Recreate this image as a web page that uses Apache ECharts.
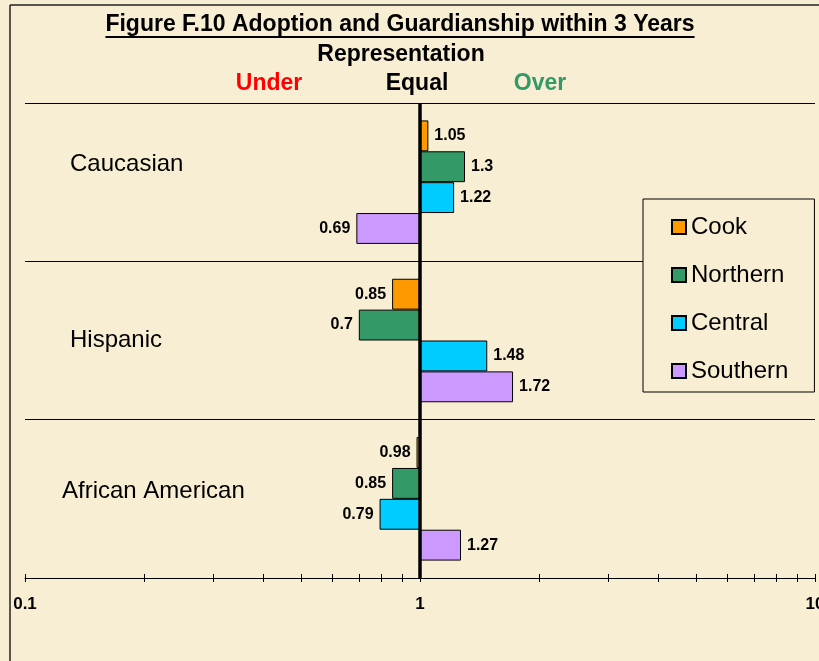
<!DOCTYPE html>
<html>
<head>
<meta charset="utf-8">
<script src="https://cdn.jsdelivr.net/npm/echarts@6/dist/echarts.min.js"></script>
<style>
html,body{margin:0;padding:0;background:#F8EED3;}
#chart{width:819px;height:661px;}
</style>
</head>
<body>
<div id="chart"></div>
<script>
// ---- data ----
const categories = ['Caucasian', 'Hispanic', 'African American'];
const seriesNames = ['Cook', 'Northern', 'Central', 'Southern'];
const cook     = [1.05, 0.85, 0.98];
const northern = [1.3, 0.7, 0.85];
const central  = [1.22, 1.48, 0.79];
const southern = [0.69, 1.72, 1.27];
const tickValues  = [0.1,0.2,0.3,0.4,0.5,0.6,0.7,0.8,0.9,1,2,3,4,5,6,7,8,9,10];
const labelValues = [0.1, 1, 10];
const titleText = 'Figure F.10 Adoption and Guardianship within 3 Years';
const subText = 'Representation';
const underText = 'Under', equalText = 'Equal', overText = 'Over';

// ---- styling ----
const FONT = '"Liberation Sans", Arial, sans-serif';
const colors = ['#FF9900', '#339966', '#00CCFF', '#CC99FF'];
const bg = '#F8EED3';
const catLabelStyle = [
  {align: 'left', padding: [0,0,0,8], verticalAlign: 'bottom', lineHeight: 35},
  {align: 'left', padding: [0,0,0,8], verticalAlign: 'middle'},
  {align: 'left', padding: [0,0,0,0], verticalAlign: 'bottom', lineHeight: 15}
];
const values = [cook, northern, central, southern];

const chart = echarts.init(document.getElementById('chart'), null, {renderer:'canvas'});

function measure(text, font){
  const c = document.createElement('canvas').getContext('2d');
  c.font = font;
  return c.measureText(text).width;
}
const titleFont = 'bold 23px "Liberation Sans", Arial';
const tw = measure(titleText, titleFont);
const titleCx = 400;

const series = seriesNames.map((name, si) => ({
  name: name,
  type: 'bar',
  xAxisIndex: 0,
  yAxisIndex: 0,
  barGap: '0%',
  barCategoryGap: '22%',
  itemStyle: {color: colors[si], borderColor: '#000', borderWidth: 1},
  data: values[si].map(v => ({
    value: v,
    label: {position: v < 1 ? 'left' : 'right'}
  })),
  label: {
    show: true,
    distance: 6,
    fontFamily: FONT,
    fontWeight: 'bold',
    fontSize: 16,
    color: '#000'
  },
  markLine: si === 0 ? {
    silent: true,
    symbol: 'none',
    label: {show: false},
    lineStyle: {color: '#000', width: 3.5, type: 'solid'},
    data: [{xAxis: 1}],
    z: 10
  } : undefined,
  z: 2
}));

const option = {
  backgroundColor: bg,
  animation: false,
  grid: {left: 25, right: 4, top: 103, bottom: 83, containLabel: false, outerBoundsMode: 'none'},
  legend: {
    orient: 'vertical',
    left: 643,
    top: 199,
    padding: [16, 26, 9, 28],
    itemGap: 24,
    itemWidth: 14,
    itemHeight: 14,
    icon: 'rect',
    backgroundColor: bg,
    borderColor: '#000',
    borderWidth: 1,
    borderRadius: 0,
    data: seriesNames,
    textStyle: {fontFamily: FONT, fontSize: 24, color: '#000', lineHeight: 24}
  },
  xAxis: [{
    type: 'log',
    logBase: 10,
    min: 0.1,
    max: 10,
    position: 'bottom',
    axisLine: {show: true, lineStyle: {color: '#000', width: 1}},
    axisTick: {show: true, customValues: tickValues, length: 4, inside: false, lineStyle: {color: '#000', width: 1}},
    axisLabel: {show: true, customValues: labelValues, margin: 18, fontFamily: FONT, fontWeight: 'bold', fontSize: 17, color: '#000',
      formatter: v => String(v)},
    splitLine: {show: false}
  }, {
    type: 'log',
    logBase: 10,
    min: 0.1,
    max: 10,
    position: 'bottom',
    axisLine: {show: false},
    axisTick: {show: true, customValues: tickValues, length: 4, inside: true, lineStyle: {color: '#000', width: 1}},
    axisLabel: {show: false},
    splitLine: {show: false}
  }],
  yAxis: {
    type: 'category',
    inverse: true,
    data: categories.map((c, i) => ({value: c, textStyle: catLabelStyle[i]})),
    axisLine: {show: false},
    axisTick: {show: false},
    splitLine: {show: true, lineStyle: {color: '#000', width: 1}},
    axisLabel: {
      inside: false,
      align: 'left',
      margin: -37,
      fontFamily: FONT,
      fontSize: 24,
      color: '#000'
    }
  },
  series: series,
  graphic: [
    {type: 'line', shape: {x1: 10, y1: 5, x2: 10, y2: 661}, style: {stroke: '#222', lineWidth: 1.5}, z: 100},
    {type: 'line', shape: {x1: 10, y1: 5, x2: 819, y2: 5}, style: {stroke: '#222', lineWidth: 1.5}, z: 100},
    {type: 'text', x: titleCx, y: 25, style: {text: titleText, font: titleFont, fill: '#000', align: 'center', verticalAlign: 'middle'}},
    {type: 'line', shape: {x1: titleCx - tw/2, y1: 37, x2: titleCx + tw/2, y2: 37}, style: {stroke: '#000', lineWidth: 2}},
    {type: 'text', x: 401, y: 55, style: {text: subText, font: 'bold 23px "Liberation Sans", Arial', fill: '#000', align: 'center', verticalAlign: 'middle'}},
    {type: 'text', x: 269, y: 84, style: {text: underText, font: 'bold 23px "Liberation Sans", Arial', fill: '#FF0000', align: 'center', verticalAlign: 'middle'}},
    {type: 'text', x: 417, y: 84, style: {text: equalText, font: 'bold 23px "Liberation Sans", Arial', fill: '#000', align: 'center', verticalAlign: 'middle'}},
    {type: 'text', x: 540, y: 84, style: {text: overText, font: 'bold 23px "Liberation Sans", Arial', fill: '#339966', align: 'center', verticalAlign: 'middle'}}
  ]
};
chart.setOption(option);
</script>
</body>
</html>
